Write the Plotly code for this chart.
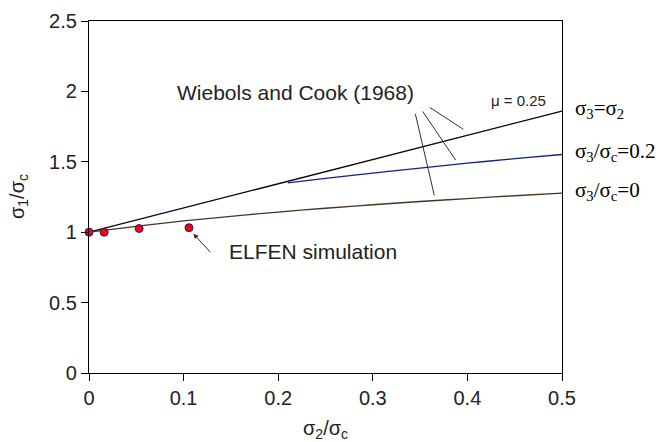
import plotly.graph_objects as go

# ELFEN simulation points
elfen_x = [0.0, 0.016, 0.053, 0.1057]
elfen_y = [1.0, 1.0, 1.026, 1.032]

# Wiebols and Cook (1968) curves
w_eq_x = [0.0, 0.5]
w_eq_y = [1.0, 1.86]

w_02_x = [0.21, 0.25, 0.3, 0.35, 0.4, 0.45, 0.5]
w_02_y = [1.35, 1.382, 1.42, 1.455, 1.49, 1.522, 1.552]

w_0_x = [0.0, 0.05, 0.1, 0.15, 0.2, 0.25, 0.3, 0.35, 0.4, 0.45, 0.5]
w_0_y = [1.0, 1.042, 1.08, 1.113, 1.143, 1.17, 1.195, 1.218, 1.239, 1.259, 1.278]

x_ticks = [0, 0.1, 0.2, 0.3, 0.4, 0.5]
y_ticks = [0, 0.5, 1, 1.5, 2, 2.5]

SANS = "Liberation Sans, Arial, sans-serif"
SERIF = "Liberation Serif, Times New Roman, serif"
BROWN = "#3f2a1a"

fig = go.Figure()
fig.add_trace(go.Scatter(x=w_eq_x, y=w_eq_y, mode="lines",
                         line=dict(color="black", width=1.3), showlegend=False))
fig.add_trace(go.Scatter(x=w_02_x, y=w_02_y, mode="lines",
                         line=dict(color="#14208f", width=1.3, shape="spline"), showlegend=False))
fig.add_trace(go.Scatter(x=w_0_x, y=w_0_y, mode="lines",
                         line=dict(color="#4a3320", width=1.3, shape="spline"), showlegend=False))
fig.add_trace(go.Scatter(x=elfen_x, y=elfen_y, mode="markers",
                         marker=dict(color="red", size=8, line=dict(color="#1a1aa0", width=1)),
                         showlegend=False, cliponaxis=False))

annotations = []
# right side labels
for txt, yv in [("σ<sub>3</sub>=σ<sub>2</sub>", w_eq_y[-1]),
                ("σ<sub>3</sub>/σ<sub>c</sub>=0.2", w_02_y[-1]),
                ("σ<sub>3</sub>/σ<sub>c</sub>=0", w_0_y[-1])]:
    annotations.append(dict(x=0.5, y=yv, xref="x", yref="y", text=txt, showarrow=False,
                            xanchor="left", yanchor="middle", xshift=11, yshift=2,
                            font=dict(family=SERIF, size=21, color="black")))

# Wiebols and Cook label
annotations.append(dict(x=0.2178, y=1.99, xref="x", yref="y", text="Wiebols and Cook (1968)",
                        showarrow=False, xanchor="center", yanchor="middle",
                        font=dict(family=SANS, size=21, color="#222")))
annotations.append(dict(x=0.4535, y=1.935, xref="x", yref="y", text="μ = 0.25",
                        showarrow=False, xanchor="center", yanchor="middle",
                        font=dict(family=SANS, size=15, color="#222")))
# leader lines
for (tx, ty, sx, sy) in [(0.365, 1.262, 0.3446, 1.851),
                         (0.3876, 1.512, 0.3517, 1.868),
                         (0.3957, 1.731, 0.3587, 1.893)]:
    annotations.append(dict(x=tx, y=ty, ax=sx, ay=sy, xref="x", yref="y", axref="x", ayref="y",
                            text="", showarrow=True, arrowhead=0, arrowwidth=1, arrowcolor=BROWN))
# ELFEN annotation
annotations.append(dict(x=0.1103, y=0.989, ax=0.1297, ay=0.848, xref="x", yref="y",
                        axref="x", ayref="y", text="", showarrow=True, arrowhead=2,
                        arrowsize=1, arrowwidth=1, arrowcolor=BROWN))
annotations.append(dict(x=0.1456, y=0.86, xref="x", yref="y", text="ELFEN simulation",
                        showarrow=False, xanchor="left", yanchor="middle",
                        font=dict(family=SANS, size=21, color="#222")))
# axis titles
annotations.append(dict(x=0.5, y=-0.16, xref="paper", yref="paper",
                        text="σ<sub>2</sub>/σ<sub>c</sub>", showarrow=False,
                        xanchor="center", yanchor="middle",
                        font=dict(family=SANS, size=20, color="#222")))
annotations.append(dict(x=-0.15, y=0.5, xref="paper", yref="paper",
                        text="σ<sub>1</sub>/σ<sub>c</sub>", showarrow=False, textangle=-90,
                        xanchor="center", yanchor="middle",
                        font=dict(family=SANS, size=20, color="#222")))

fig.update_layout(
    width=657, height=434,
    margin=dict(l=81, r=103, t=13, b=69),
    plot_bgcolor="white", paper_bgcolor="white",
    annotations=annotations,
    xaxis=dict(range=[0, 0.5], tickvals=x_ticks, ticktext=[str(v) for v in x_ticks],
               ticks="outside", ticklen=7, tickcolor="black", showline=True, linecolor="black",
               linewidth=1.3, mirror=True, showgrid=False, zeroline=False, automargin=False,
               tickfont=dict(family=SANS, size=20, color="#222")),
    yaxis=dict(range=[0, 2.5], tickvals=y_ticks, ticktext=[str(v) for v in y_ticks],
               ticks="outside", ticklen=7, tickcolor="black", showline=True, linecolor="black",
               linewidth=1.3, mirror=True, showgrid=False, zeroline=False, automargin=False,
               tickfont=dict(family=SANS, size=20, color="#222")),
)

fig.write_html("out.html")
